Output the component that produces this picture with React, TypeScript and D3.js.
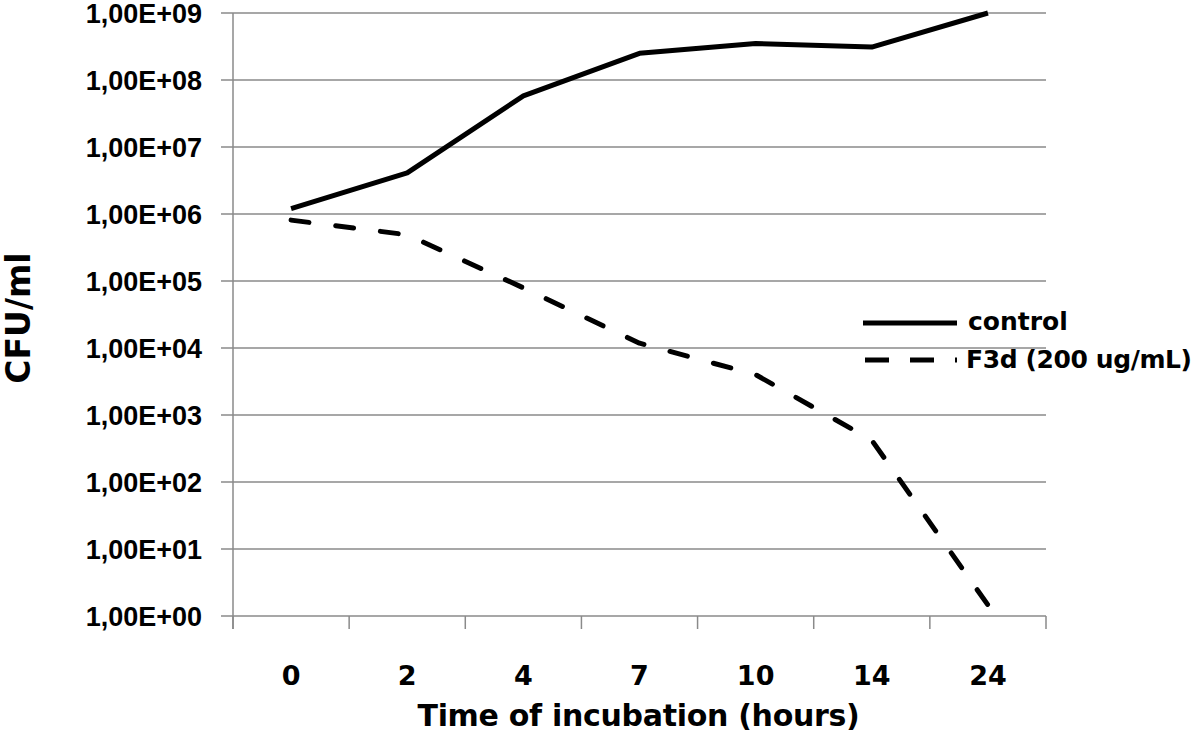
import React from "react";
import * as d3 from "d3";

const categories = ["0", "2", "4", "7", "10", "14", "24"];
const controlValues = [1.2e6, 4.1e6, 5.8e7, 2.5e8, 3.5e8, 3.1e8, 1.0e9];
const f3dValues = [8.1e5, 4.9e5, 7.9e4, 1.18e4, 4.0e3, 4.2e2, 1.46];
const yTickValues = [1, 1e1, 1e2, 1e3, 1e4, 1e5, 1e6, 1e7, 1e8, 1e9];
const yTickLabels = [
  "1,00E+00", "1,00E+01", "1,00E+02", "1,00E+03", "1,00E+04",
  "1,00E+05", "1,00E+06", "1,00E+07", "1,00E+08", "1,00E+09",
];
const seriesNames = ["control", "F3d (200 ug/mL)"];
const xTitle = "Time of incubation (hours)";
const yTitle = "CFU/ml";

const W = 1200;
const H = 739;
const left = 233;
const right = 1046;
const top = 13;
const bottom = 616;

export default function App() {
  const x = d3.scaleBand<string>().domain(categories).range([left, right]).padding(0);
  const y = d3.scaleLog().domain([1, 1e9]).range([bottom, top]);
  const cx = (c: string) => (x(c) as number) + x.bandwidth() / 2;

  const line = d3
    .line<number>()
    .x((_, i) => cx(categories[i]))
    .y((v) => y(v));

  const grid = "#8a8a8a";
  const dash = "18 27";
  const boundaries = categories.map((c) => x(c) as number).concat([right]);

  return (
    <svg
      width={W}
      height={H}
      style={{ position: "absolute", left: 0, top: 0, background: "#fff" }}
    >
      {yTickValues.map((v) => (
        <line key={v} x1={221} x2={right} y1={y(v)} y2={y(v)} stroke={grid} strokeWidth={1.5} />
      ))}
      <line x1={left} x2={left} y1={top} y2={bottom + 13} stroke={grid} strokeWidth={1.5} />
      {boundaries.map((b, i) => (
        <line key={i} x1={b} x2={b} y1={bottom} y2={bottom + 13} stroke={grid} strokeWidth={1.5} />
      ))}
      {yTickValues.map((v, i) => (
        <text
          key={v}
          x={202}
          y={y(v)}
          dy="0.36em"
          textAnchor="end"
          fontFamily="Liberation Sans, Arial, sans-serif"
          fontWeight="bold"
          fontSize={27}
          fill="#000"
        >
          {yTickLabels[i]}
        </text>
      ))}
      {categories.map((c) => (
        <text
          key={c}
          x={cx(c)}
          y={685}
          textAnchor="middle"
          fontFamily="DejaVu Sans, sans-serif"
          fontWeight="bold"
          fontSize={27}
          fill="#000"
        >
          {c}
        </text>
      ))}
      <text
        x={(left + right) / 2 - 1}
        y={726}
        textAnchor="middle"
        fontFamily="DejaVu Sans, sans-serif"
        fontWeight="bold"
        fontSize={30}
        letterSpacing={-0.3}
        fill="#000"
      >
        {xTitle}
      </text>
      <text
        transform="translate(18,318) rotate(-90)"
        dy="0.36em"
        textAnchor="middle"
        fontFamily="DejaVu Sans, sans-serif"
        fontWeight="bold"
        fontSize={33}
        fill="#000"
      >
        {yTitle}
      </text>
      <path d={line(controlValues) || ""} fill="none" stroke="#000" strokeWidth={5} strokeLinejoin="round" />
      <path
        d={line(f3dValues) || ""}
        fill="none"
        stroke="#000"
        strokeWidth={5}
        strokeDasharray={dash}
        strokeLinecap="round"
        strokeLinejoin="round"
      />
      <line x1={863} x2={957} y1={323} y2={323} stroke="#000" strokeWidth={5} />
      <text x={968} y={330} fontFamily="DejaVu Sans, sans-serif" fontWeight="bold" fontSize={25} fill="#000">
        {seriesNames[0]}
      </text>
      <line
        x1={865}
        x2={957}
        y1={360}
        y2={360}
        stroke="#000"
        strokeWidth={5}
        strokeDasharray="24 21"
      />
      <text x={966} y={368} fontFamily="DejaVu Sans, sans-serif" fontWeight="bold" fontSize={25} letterSpacing={-0.4} fill="#000">
        {seriesNames[1]}
      </text>
    </svg>
  );
}
